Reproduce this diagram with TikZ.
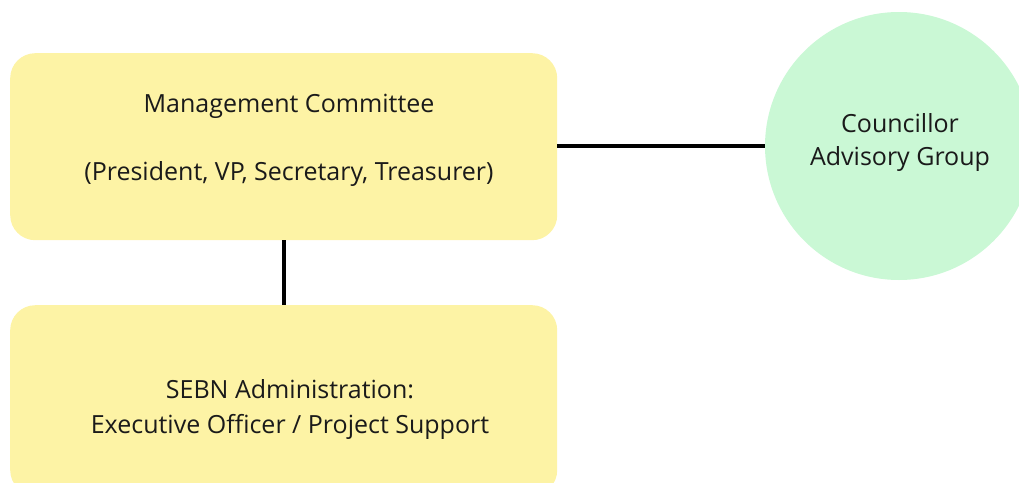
\documentclass[tikz,border=0pt]{standalone}
\usepackage{fontspec}
\setmainfont{Open Sans}
\definecolor{boxyellow}{HTML}{FDF3A5}
\definecolor{circgreen}{HTML}{CAF8D5}
\definecolor{txt}{HTML}{1A1A1A}
\begin{document}
\begin{tikzpicture}[x=1pt,y=-1pt,
  ybox/.style={fill=boxyellow,draw=none,rounded corners=25pt,minimum width=547pt,inner sep=0pt,anchor=north west},
  lbl/.style={text=txt,font=\fontsize{25}{34}\selectfont,align=center},
  conn/.style={line width=4pt,black}]
\useasboundingbox (0,0) rectangle (1019,482);
\node[ybox,minimum height=187pt] (mc) at (10,53) {};
\node[lbl] (mct) at (289,140) {Management Committee\\[34pt](President, VP, Secretary, Treasurer)};
\node[ybox,minimum height=190pt] (adm) at (10,305) {};
\node[lbl,font=\fontsize{25}{35}\selectfont] (admt) at (290,409) {SEBN Administration:\\Executive Officer / Project Support};
\node[circle,fill=circgreen,minimum size=268pt,inner sep=0pt] (cag) at (899,146) {};
\node[lbl,font=\fontsize{25}{33}\selectfont] (cagt) at (900,143) {Councillor\\Advisory Group};
\draw[conn] (mc.east |- 0,145.5) -- (cag.west |- 0,145.5);
\draw[conn] (mc.south -| 284,0) -- (adm.north -| 284,0);
\end{tikzpicture}
\end{document}
